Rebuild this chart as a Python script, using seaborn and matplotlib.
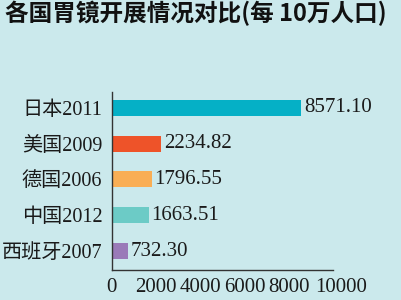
import matplotlib
matplotlib.use("Agg")
import matplotlib.pyplot as plt
import matplotlib.transforms as mtransforms
import seaborn as sns
import pandas as pd

categories = ["日本2011", "美国2009", "德国2006", "中国2012", "西班牙2007"]
values = [8571.10, 2234.82, 1796.55, 1663.51, 732.30]
value_labels = ["8571.10", "2234.82", "1796.55", "1663.51", "732.30"]
colors = ["#05b0c6", "#ee5329", "#f9ae55", "#6ccbc6", "#9a7ab8"]
xticks = [0, 2000, 4000, 6000, 8000, 10000]
title = "各国胃镜开展情况对比(每 10万人口)"

bg = "#cbe9ec"
sns.set_theme(style="white")
plt.rcParams["font.family"] = ["Liberation Serif", "Noto Sans CJK SC", "DejaVu Sans"]

df = pd.DataFrame({"cat": categories, "val": values})

fig = plt.figure(figsize=(4.01, 3.0), dpi=100, facecolor=bg)
ax = fig.add_axes([0.279, 0.10, 0.551, 0.593])
ax.set_facecolor(bg)

sns.barplot(data=df, x="val", y="cat", hue="cat", palette=colors, order=categories,
            hue_order=categories, orient="h", legend=False, width=0.45, ax=ax,
            saturation=1, linewidth=0)

for i, (v, lab) in enumerate(zip(values, value_labels)):
    ax.text(v + 120, i, lab, va="center", ha="left", fontsize=15,
            family=["Liberation Serif", "Noto Sans CJK SC"], color="#1a1a1a")

ax.set_xlim(0, 10000)
ax.set_ylim(4.53, -0.44)
ax.set_xticks(xticks)
ax.set_xticklabels([str(t) for t in xticks], fontsize=15,
                   family=["Liberation Serif"], color="#1a1a1a")
ax.set_yticklabels(categories, fontsize=14.5,
                   family=["Liberation Serif", "Noto Sans CJK SC"], color="#1a1a1a")
ax.set_xlabel("")
ax.set_ylabel("")
ax.tick_params(axis="x", direction="in", length=4, width=1, color="#333333", pad=6)
ax.tick_params(axis="y", length=0, pad=7)
for s in ["top", "right"]:
    ax.spines[s].set_visible(False)
for s in ["left", "bottom"]:
    ax.spines[s].set_color("#333333")
    ax.spines[s].set_linewidth(1)

# shift the last tick label slightly right as in the reference
last = ax.get_xticklabels()[-1]
last.set_transform(last.get_transform() + mtransforms.ScaledTranslation(8 / 100, 0, fig.dpi_scale_trans))

fig.text(0.012, 0.955, title, fontsize=17, fontweight="bold", va="center", ha="left",
         family=["Noto Sans CJK SC", "DejaVu Sans"], color="#111111")

fig.savefig("out.png", dpi=100, facecolor=bg)
